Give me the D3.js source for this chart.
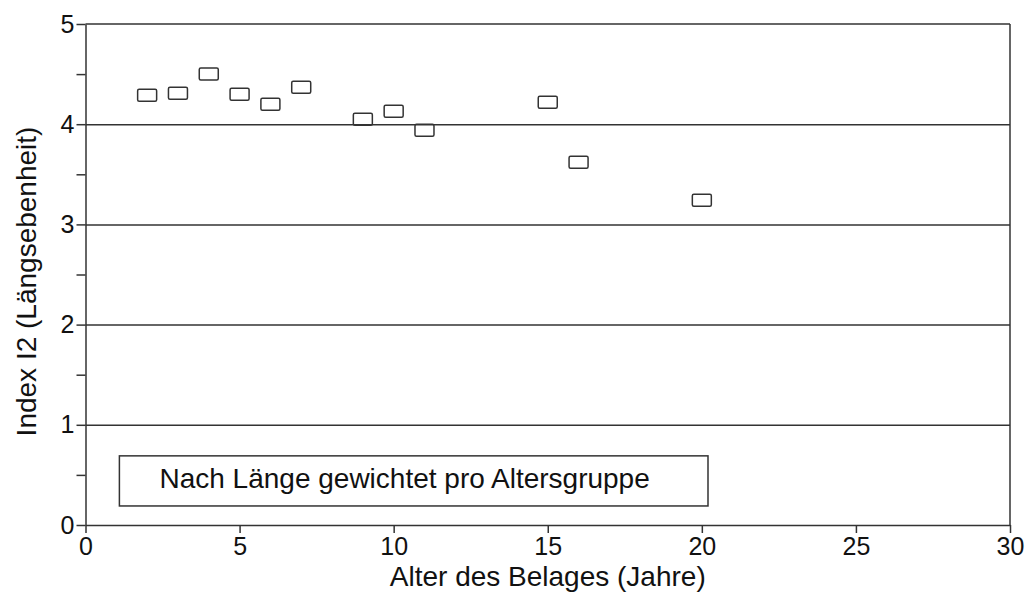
<!DOCTYPE html>
<html>
<head>
<meta charset="utf-8">
<style>
  body { margin: 0; background: #fff; }
  svg { display: block; font-family: "Liberation Sans", Arial, sans-serif; }
  .axis path, .axis line { stroke: #333; stroke-width: 1.5px; }
  .axis text { fill: #111; font-size: 25px; }
</style>
</head>
<body>
<svg width="1029" height="592"></svg>
<script src="https://d3js.org/d3.v7.min.js"></script>
<script>

// age of the pavement (years) and the I2 index per age group
var ages   = [2, 3, 4, 5, 6, 7, 9, 10, 11, 15, 16, 20];
var index2 = [4.29, 4.31, 4.50, 4.30, 4.20, 4.37, 4.05, 4.13, 3.94, 4.22, 3.62, 3.24];

var xTicks = [0, 5, 10, 15, 20, 25, 30];
var yTicks = [0, 0.5, 1, 1.5, 2, 2.5, 3, 3.5, 4, 4.5, 5];
var gridValues = [1, 2, 3, 4];

var legendText = "Nach Länge gewichtet pro Altersgruppe";
var xTitle = "Alter des Belages (Jahre)";
var yTitle = "Index I2 (Längsebenheit)";

var margin = {top: 24, right: 19, bottom: 67, left: 85.5},
    width = 1029 - margin.left - margin.right,
    height = 592 - margin.top - margin.bottom;

var x = d3.scaleLinear().domain([0, 30]).range([0, width]);
var y = d3.scaleLinear().domain([0, 5]).range([height, 0]);

var svg = d3.select("svg")
  .append("g")
    .attr("transform", "translate(" + margin.left + "," + margin.top + ")");

// horizontal grid lines
svg.append("g")
    .attr("class", "axis grid")
    .call(d3.axisLeft(y).tickValues(gridValues).tickSize(-width).tickFormat(""))
    .call(function(g) { g.select(".domain").remove(); });

// frame: top and right
svg.append("line").attr("class", "frame")
    .attr("x1", 0).attr("x2", width).attr("y1", y(5)).attr("y2", y(5));
svg.append("line").attr("class", "frame")
    .attr("x1", width).attr("x2", width).attr("y1", y(5)).attr("y2", y(0));
svg.selectAll(".frame").attr("stroke", "#333").attr("stroke-width", 1.5);

svg.append("g")
    .attr("class", "axis")
    .attr("transform", "translate(0," + height + ")")
    .call(d3.axisBottom(x).tickValues(xTicks).tickSize(8).tickSizeOuter(0).tickPadding(4));

svg.append("g")
    .attr("class", "axis")
    .call(d3.axisLeft(y).tickValues(yTicks).tickSize(9).tickSizeOuter(0).tickPadding(2)
      .tickFormat(function(d) { return d % 1 === 0 ? d : ""; }));

// legend box
var legend = svg.append("g");
legend.append("rect")
    .attr("x", x(1.1)).attr("y", y(0.69))
    .attr("width", x(20.2) - x(1.1)).attr("height", y(0.19) - y(0.69))
    .attr("fill", "none").attr("stroke", "#333").attr("stroke-width", 1.5);
legend.append("text")
    .attr("x", x(2.4)).attr("y", y(0.37))
    .attr("font-size", 28).attr("fill", "#111")
    .text(legendText);

// data markers
svg.selectAll(".pt")
  .data(ages.map(function(a, i) { return {age: a, val: index2[i]}; }))
  .enter().append("rect")
    .attr("class", "pt")
    .attr("x", function(d) { return x(d.age) - 9.5; })
    .attr("y", function(d) { return y(d.val) - 6; })
    .attr("width", 19).attr("height", 12).attr("rx", 1.5)
    .attr("fill", "none").attr("stroke", "#333").attr("stroke-width", 1.5);

// axis titles
svg.append("text")
    .attr("x", x(15)).attr("y", height + 61)
    .attr("text-anchor", "middle").attr("font-size", 28).attr("fill", "#111")
    .text(xTitle);

svg.append("text")
    .attr("transform", "translate(" + (-margin.left + 36) + "," + (height / 2 + 7) + ") rotate(-90)")
    .attr("text-anchor", "middle").attr("font-size", 28).attr("fill", "#111")
    .text(yTitle);

</script>
</body>
</html>
